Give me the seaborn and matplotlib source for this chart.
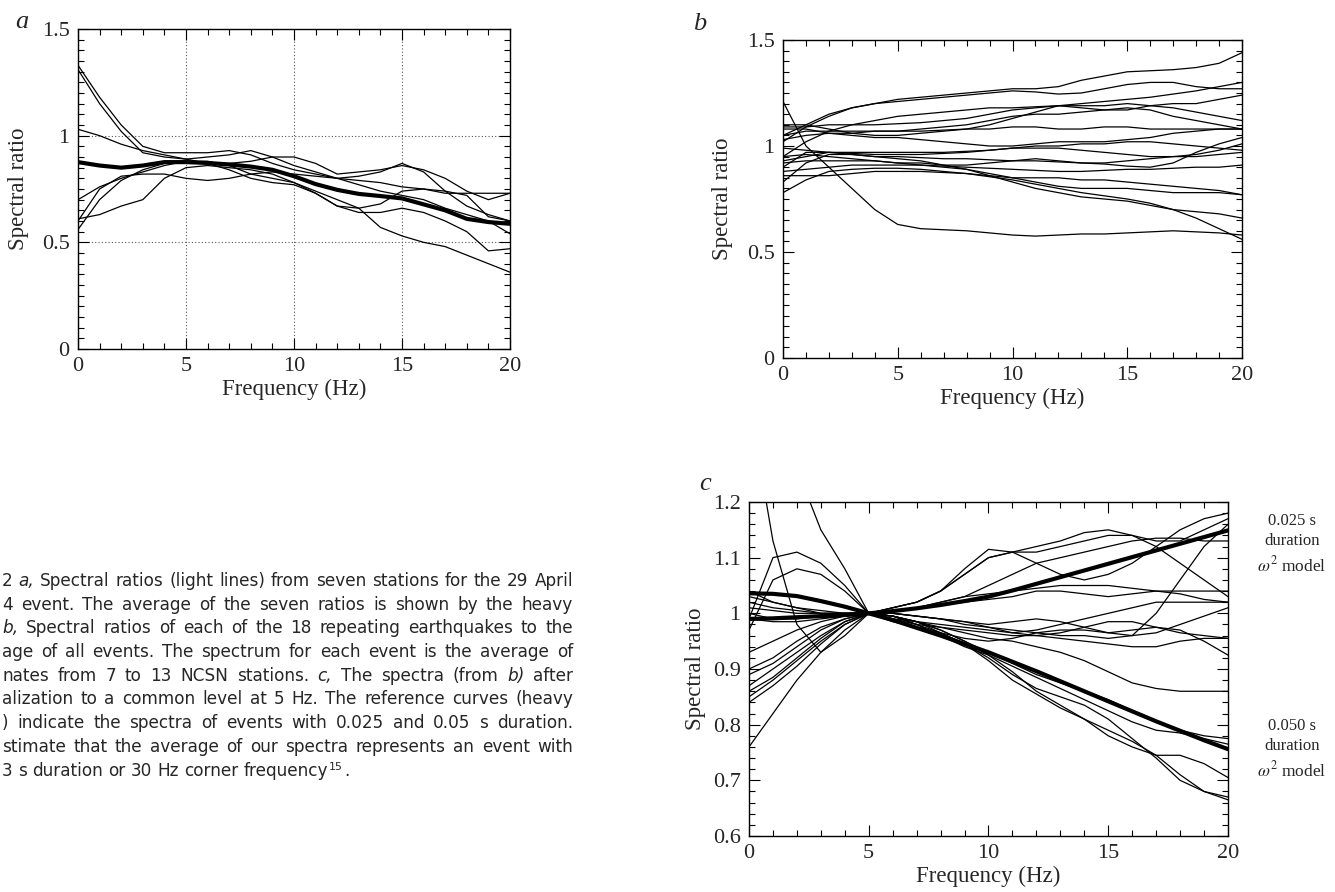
import matplotlib
matplotlib.use('Agg')
import pandas as pd
import seaborn as sns
import matplotlib.pyplot as plt
from matplotlib.ticker import MultipleLocator, FuncFormatter
from matplotlib.transforms import IdentityTransform

# frequency grid (Hz) shared by every curve
freq = list(range(21))

# panel a: spectral ratios at seven stations, 29 April 1994 event, and their average
a_st1 = [1.33, 1.18, 1.05, 0.95, 0.92, 0.92, 0.92, 0.93, 0.91, 0.87, 0.84, 0.82, 0.80, 0.79, 0.78, 0.76, 0.75, 0.73, 0.73, 0.73, 0.73]
a_st2 = [1.31, 1.15, 1.02, 0.92, 0.90, 0.89, 0.90, 0.91, 0.93, 0.90, 0.86, 0.83, 0.80, 0.77, 0.74, 0.72, 0.70, 0.66, 0.63, 0.60, 0.54]
a_st3 = [1.03, 1.00, 0.96, 0.93, 0.91, 0.89, 0.87, 0.84, 0.80, 0.78, 0.77, 0.73, 0.67, 0.64, 0.64, 0.66, 0.64, 0.60, 0.55, 0.46, 0.47]
a_st4 = [0.70, 0.76, 0.80, 0.83, 0.86, 0.88, 0.87, 0.87, 0.88, 0.90, 0.90, 0.87, 0.82, 0.83, 0.84, 0.86, 0.84, 0.80, 0.74, 0.70, 0.73]
a_st5 = [0.61, 0.63, 0.67, 0.70, 0.80, 0.85, 0.86, 0.85, 0.84, 0.82, 0.78, 0.74, 0.70, 0.66, 0.57, 0.53, 0.50, 0.48, 0.44, 0.40, 0.36]
a_st6 = [0.56, 0.70, 0.79, 0.84, 0.87, 0.88, 0.88, 0.86, 0.82, 0.80, 0.78, 0.73, 0.67, 0.66, 0.68, 0.74, 0.75, 0.74, 0.72, 0.62, 0.60]
a_st7 = [0.60, 0.75, 0.81, 0.82, 0.82, 0.80, 0.79, 0.80, 0.82, 0.83, 0.82, 0.81, 0.80, 0.81, 0.83, 0.87, 0.83, 0.74, 0.67, 0.63, 0.60]
a_mean = [0.876, 0.86, 0.85, 0.86, 0.876, 0.876, 0.872, 0.865, 0.855, 0.84, 0.81, 0.773, 0.746, 0.727, 0.717, 0.706, 0.678, 0.65, 0.61, 0.595, 0.587]

# panel b: spectral ratio of each of the 18 repeating earthquakes to the average
b_ev01 = [1.02, 1.09, 1.14, 1.18, 1.20, 1.22, 1.23, 1.24, 1.25, 1.26, 1.27, 1.27, 1.28, 1.31, 1.33, 1.35, 1.355, 1.36, 1.37, 1.39, 1.44]
b_ev02 = [1.05, 1.10, 1.15, 1.18, 1.20, 1.21, 1.22, 1.23, 1.24, 1.25, 1.26, 1.255, 1.245, 1.25, 1.27, 1.29, 1.30, 1.30, 1.28, 1.27, 1.27]
b_ev03 = [0.95, 1.02, 1.07, 1.10, 1.12, 1.14, 1.15, 1.16, 1.17, 1.18, 1.18, 1.185, 1.19, 1.20, 1.21, 1.22, 1.23, 1.245, 1.26, 1.28, 1.30]
b_ev04 = [1.09, 1.09, 1.10, 1.10, 1.10, 1.105, 1.11, 1.12, 1.13, 1.15, 1.17, 1.18, 1.19, 1.19, 1.19, 1.20, 1.19, 1.18, 1.16, 1.14, 1.12]
b_ev05 = [1.10, 1.10, 1.08, 1.06, 1.05, 1.05, 1.06, 1.07, 1.08, 1.10, 1.13, 1.16, 1.19, 1.18, 1.17, 1.17, 1.19, 1.20, 1.20, 1.22, 1.24]
b_ev06 = [1.03, 1.05, 1.06, 1.06, 1.07, 1.07, 1.08, 1.09, 1.10, 1.12, 1.14, 1.15, 1.15, 1.16, 1.17, 1.18, 1.17, 1.14, 1.12, 1.10, 1.08]
b_ev07 = [1.08, 1.08, 1.06, 1.05, 1.04, 1.04, 1.03, 1.02, 1.01, 1.00, 1.00, 1.01, 1.02, 1.02, 1.02, 1.03, 1.04, 1.06, 1.07, 1.08, 1.08]
b_ev08 = [1.05, 1.07, 1.07, 1.07, 1.07, 1.07, 1.07, 1.075, 1.08, 1.08, 1.09, 1.09, 1.08, 1.08, 1.09, 1.09, 1.08, 1.08, 1.08, 1.08, 1.08]
b_ev09 = [0.93, 0.95, 0.97, 0.97, 0.97, 0.97, 0.97, 0.97, 0.975, 0.98, 0.99, 1.00, 1.00, 1.01, 1.01, 1.02, 1.02, 1.01, 1.00, 0.99, 0.98]
b_ev10 = [0.99, 0.98, 0.97, 0.965, 0.96, 0.96, 0.96, 0.965, 0.97, 0.98, 0.99, 0.99, 0.99, 0.98, 0.97, 0.96, 0.95, 0.95, 0.96, 0.98, 1.01]
b_ev11 = [0.83, 0.92, 0.96, 0.96, 0.95, 0.95, 0.945, 0.94, 0.94, 0.935, 0.93, 0.93, 0.925, 0.92, 0.915, 0.905, 0.90, 0.92, 0.97, 1.01, 1.04]
b_ev12 = [0.92, 0.93, 0.93, 0.93, 0.93, 0.92, 0.92, 0.91, 0.91, 0.92, 0.93, 0.94, 0.93, 0.92, 0.92, 0.93, 0.94, 0.95, 0.95, 0.96, 0.97]
b_ev13 = [0.88, 0.89, 0.90, 0.91, 0.91, 0.91, 0.91, 0.905, 0.90, 0.895, 0.89, 0.885, 0.88, 0.88, 0.885, 0.89, 0.89, 0.895, 0.90, 0.90, 0.91]
b_ev14 = [0.86, 0.86, 0.86, 0.87, 0.88, 0.88, 0.88, 0.875, 0.87, 0.86, 0.85, 0.85, 0.85, 0.84, 0.84, 0.83, 0.82, 0.81, 0.80, 0.79, 0.77]
b_ev15 = [0.95, 0.96, 0.95, 0.94, 0.93, 0.92, 0.91, 0.90, 0.89, 0.87, 0.85, 0.83, 0.81, 0.80, 0.80, 0.80, 0.79, 0.78, 0.78, 0.78, 0.77]
b_ev16 = [0.90, 0.97, 0.97, 0.96, 0.95, 0.94, 0.93, 0.91, 0.89, 0.86, 0.83, 0.80, 0.78, 0.76, 0.75, 0.74, 0.72, 0.70, 0.69, 0.68, 0.66]
b_ev17 = [1.21, 1.00, 0.90, 0.80, 0.70, 0.63, 0.61, 0.605, 0.60, 0.59, 0.58, 0.575, 0.58, 0.585, 0.585, 0.59, 0.595, 0.60, 0.595, 0.59, 0.58]
b_ev18 = [0.78, 0.84, 0.88, 0.89, 0.895, 0.895, 0.89, 0.88, 0.87, 0.855, 0.84, 0.82, 0.80, 0.78, 0.765, 0.75, 0.73, 0.70, 0.66, 0.61, 0.56]

# panel c: the same spectra normalised at 5 Hz, with two omega-squared reference models
c_ev01 = [1.38, 1.13, 0.98, 0.93, 0.96, 1.00, 1.01, 1.02, 1.04, 1.07, 1.10, 1.11, 1.11, 1.12, 1.13, 1.14, 1.14, 1.13, 1.13, 1.15, 1.17]
c_ev02 = [1.90, 1.50, 1.26, 1.15, 1.08, 1.00, 0.99, 0.985, 0.98, 0.975, 0.97, 0.965, 0.97, 0.98, 0.99, 1.00, 1.01, 1.02, 1.02, 1.02, 1.02]
c_ev03 = [0.99, 1.10, 1.11, 1.09, 1.05, 1.00, 0.985, 0.975, 0.965, 0.955, 0.95, 0.955, 0.965, 0.97, 0.97, 0.965, 0.97, 0.975, 0.97, 0.95, 0.925]
c_ev04 = [0.97, 1.06, 1.08, 1.07, 1.04, 1.00, 0.99, 0.98, 0.975, 0.97, 0.965, 0.96, 0.96, 0.965, 0.975, 0.985, 0.985, 0.975, 0.965, 0.96, 0.955]
c_ev05 = [1.04, 1.02, 1.01, 1.005, 1.00, 1.00, 1.01, 1.02, 1.04, 1.08, 1.115, 1.11, 1.12, 1.13, 1.145, 1.15, 1.14, 1.12, 1.09, 1.06, 1.03]
c_ev06 = [1.03, 1.02, 1.01, 1.00, 1.00, 1.00, 1.01, 1.02, 1.04, 1.07, 1.10, 1.11, 1.09, 1.07, 1.06, 1.07, 1.09, 1.12, 1.15, 1.17, 1.18]
c_ev07 = [1.02, 1.01, 1.005, 1.00, 1.00, 1.00, 1.005, 1.01, 1.02, 1.03, 1.035, 1.04, 1.045, 1.05, 1.05, 1.05, 1.045, 1.04, 1.04, 1.04, 1.04]
c_ev08 = [1.01, 1.005, 1.00, 1.00, 1.00, 1.00, 1.005, 1.01, 1.02, 1.03, 1.05, 1.07, 1.09, 1.10, 1.11, 1.12, 1.13, 1.135, 1.135, 1.13, 1.13]
c_ev09 = [1.00, 0.99, 0.99, 0.995, 1.00, 1.00, 1.00, 0.995, 0.99, 0.985, 0.98, 0.985, 0.99, 0.985, 0.975, 0.965, 0.96, 0.965, 0.98, 0.995, 1.01]
c_ev10 = [0.99, 0.985, 0.985, 0.99, 0.995, 1.00, 1.00, 0.995, 0.99, 0.98, 0.975, 0.97, 0.965, 0.96, 0.96, 0.955, 0.96, 1.00, 1.06, 1.12, 1.16]
c_ev11 = [0.93, 0.95, 0.97, 0.985, 0.995, 1.00, 1.005, 1.01, 1.015, 1.02, 1.025, 1.03, 1.04, 1.04, 1.035, 1.03, 1.035, 1.04, 1.035, 1.025, 1.02]
c_ev12 = [0.90, 0.92, 0.95, 0.975, 0.99, 1.00, 1.00, 0.995, 0.99, 0.985, 0.975, 0.965, 0.96, 0.955, 0.95, 0.945, 0.94, 0.94, 0.95, 0.955, 0.955]
c_ev13 = [0.89, 0.91, 0.94, 0.97, 0.99, 1.00, 0.995, 0.985, 0.975, 0.965, 0.955, 0.95, 0.94, 0.93, 0.915, 0.895, 0.875, 0.865, 0.86, 0.86, 0.86]
c_ev14 = [0.87, 0.90, 0.93, 0.96, 0.985, 1.00, 0.995, 0.985, 0.97, 0.95, 0.93, 0.91, 0.89, 0.875, 0.86, 0.845, 0.825, 0.805, 0.79, 0.78, 0.775]
c_ev15 = [0.86, 0.885, 0.92, 0.955, 0.985, 1.00, 0.995, 0.98, 0.96, 0.94, 0.925, 0.895, 0.86, 0.835, 0.81, 0.78, 0.76, 0.745, 0.745, 0.73, 0.705]
c_ev16 = [0.85, 0.88, 0.915, 0.95, 0.98, 1.00, 0.995, 0.98, 0.965, 0.945, 0.92, 0.89, 0.865, 0.85, 0.835, 0.81, 0.775, 0.74, 0.70, 0.68, 0.67]
c_ev17 = [0.84, 0.87, 0.905, 0.945, 0.98, 1.00, 0.995, 0.985, 0.97, 0.95, 0.925, 0.905, 0.885, 0.865, 0.845, 0.825, 0.805, 0.79, 0.785, 0.775, 0.765]
c_ev18 = [0.76, 0.82, 0.88, 0.93, 0.97, 1.00, 0.995, 0.985, 0.965, 0.945, 0.915, 0.88, 0.855, 0.83, 0.81, 0.79, 0.77, 0.745, 0.71, 0.68, 0.665]
c_model025 = [0.990, 0.991, 0.993, 0.995, 0.997, 1.000, 1.004, 1.009, 1.015, 1.022, 1.030, 1.041, 1.053, 1.065, 1.077, 1.089, 1.101, 1.113, 1.125, 1.137, 1.149]
c_model050 = [1.036, 1.035, 1.031, 1.022, 1.012, 1.000, 0.988, 0.974, 0.960, 0.945, 0.930, 0.913, 0.896, 0.878, 0.860, 0.842, 0.824, 0.806, 0.789, 0.772, 0.756]

a_light = [a_st1, a_st2, a_st3, a_st4, a_st5, a_st6, a_st7]
b_light = [b_ev01, b_ev02, b_ev03, b_ev04, b_ev05, b_ev06, b_ev07, b_ev08, b_ev09,
           b_ev10, b_ev11, b_ev12, b_ev13, b_ev14, b_ev15, b_ev16, b_ev17, b_ev18]
c_light = [c_ev01, c_ev02, c_ev03, c_ev04, c_ev05, c_ev06, c_ev07, c_ev08, c_ev09,
           c_ev10, c_ev11, c_ev12, c_ev13, c_ev14, c_ev15, c_ev16, c_ev17, c_ev18]

caption = [
    "2  a, Spectral ratios (light lines) from seven stations for the 29 April",
    "4 event. The average of the seven ratios is shown by the heavy",
    "b, Spectral ratios of each of the 18 repeating earthquakes to the",
    "age of all events. The spectrum for each event is the average of",
    "nates from 7 to 13 NCSN stations. c, The spectra (from b) after",
    "alization to a common level at 5 Hz. The reference curves (heavy",
    ") indicate the spectra of events with 0.025 and 0.05 s duration.",
    "stimate that the average of our spectra represents an event with",
    "3 s duration or 30 Hz corner frequency",
]
italic_words = {"a,", "b,", "c,", "b)"}


def long_frame(series):
    rows = [(k, f, v) for k, s in enumerate(series) for f, v in zip(freq, s)]
    return pd.DataFrame(rows, columns=["unit", "freq", "ratio"])


def style_axes(ax, ylim, ymaj, ymin, grid=False):
    ax.set_xlim(0, 20)
    ax.set_ylim(*ylim)
    ax.xaxis.set_major_locator(MultipleLocator(5))
    ax.xaxis.set_minor_locator(MultipleLocator(1))
    ax.yaxis.set_major_locator(MultipleLocator(ymaj))
    ax.yaxis.set_minor_locator(MultipleLocator(ymin))
    ax.yaxis.set_major_formatter(FuncFormatter(lambda v, p: f"{v:g}"))
    ax.tick_params(which="both", direction="in", top=True, right=True,
                   color="black", width=0.8)
    ax.tick_params(which="major", length=8, labelsize=16, pad=6)
    ax.tick_params(which="minor", length=4)
    for sp in ax.spines.values():
        sp.set_color("black")
        sp.set_linewidth(1.0)
    if grid:
        ax.grid(True, which="major", linestyle=(0, (1, 2)), color="#555555", lw=0.8)
    ax.set_xlabel("Frequency (Hz)", fontsize=16.5, labelpad=2)
    ax.set_ylabel("Spectral ratio", fontsize=16.5)


sns.set_style("ticks")
plt.rcParams["font.family"] = ["Liberation Serif", "DejaVu Serif"]
plt.rcParams["mathtext.fontset"] = "stix"

W, H = 1335, 892
fig = plt.figure(figsize=(W / 100, H / 100), dpi=100)


def px_axes(left, top, right, bottom):
    return fig.add_axes([left / W, 1 - bottom / H, (right - left) / W, (bottom - top) / H])


ax_a = px_axes(78, 29, 510, 349)
ax_b = px_axes(783, 40, 1242, 358)
ax_c = px_axes(749, 502, 1228, 836)

light = dict(color="black", lw=0.9, estimator=None, legend=False)
heavy = dict(color="black", lw=3.0, estimator=None, legend=False)

sns.lineplot(data=long_frame(a_light), x="freq", y="ratio", units="unit", ax=ax_a, **light)
sns.lineplot(data=long_frame([a_mean]), x="freq", y="ratio", units="unit", ax=ax_a, **heavy)
style_axes(ax_a, (0, 1.5), 0.5, 0.05, grid=True)

sns.lineplot(data=long_frame(b_light), x="freq", y="ratio", units="unit", ax=ax_b, **light)
style_axes(ax_b, (0, 1.5), 0.5, 0.05)

sns.lineplot(data=long_frame(c_light), x="freq", y="ratio", units="unit", ax=ax_c, **light)
sns.lineplot(data=long_frame([c_model025, c_model050]), x="freq", y="ratio", units="unit",
             ax=ax_c, **heavy)
style_axes(ax_c, (0.6, 1.2), 0.1, 0.02)

for ax, lx in [(ax_a, 20), (ax_b, 724), (ax_c, 697)]:
    bb = ax.get_position()
    ax.yaxis.set_label_coords((lx + 9 - bb.x0 * W) / (bb.width * W), 0.5)

# panel letters
for letter, (x, y) in {"a": (22, 22), "b": (700, 24), "c": (705, 484)}.items():
    fig.text(x / W, 1 - y / H, letter, fontsize=19, style="italic", ha="center", va="center")

# reference model labels
for y0, dur in [(521, "0.025 s"), (726, "0.050 s")]:
    fig.text(1292 / W, 1 - y0 / H, dur, fontsize=12, ha="center", va="center")
    fig.text(1292 / W, 1 - (y0 + 20) / H, "duration", fontsize=12, ha="center", va="center")
    fig.text(1292 / W, 1 - (y0 + 44) / H, r"$\omega^2$ model", fontsize=12.5, ha="center", va="center")

# caption block on the left, justified word by word
renderer = fig.canvas.get_renderer()
cap_font = ["DejaVu Sans"]
x0, x1 = 2, 573

probe = fig.text(0, 0, caption[0], fontsize=10, family=cap_font, transform=IdentityTransform())
cap_fs = 10 * (x1 - x0) / probe.get_window_extent(renderer).width
probe.remove()

cap_kw = dict(fontsize=cap_fs, family=cap_font, va="baseline", ha="left",
              transform=IdentityTransform())
for i, line in enumerate(caption):
    yb = H - (586 + 23.7 * i)
    words = line.split()
    arts = [fig.text(0, yb, w, style="italic" if w in italic_words else "normal", **cap_kw)
            for w in words]
    widths = [t.get_window_extent(renderer).width for t in arts]
    last = i == len(caption) - 1
    gap = cap_fs * 0.44 if last else (x1 - x0 - sum(widths)) / (len(words) - 1)
    x = x0
    for t, w in zip(arts, widths):
        t.set_x(x)
        x += w + gap
    if last:
        xe = x - gap
        s = fig.text(xe + 0.5, yb + 6, "15", **{**cap_kw, "fontsize": cap_fs * 0.65})
        fig.text(xe + s.get_window_extent(renderer).width + 1.5, yb, ".", **cap_kw)

fig.savefig("out.png", dpi=100)
